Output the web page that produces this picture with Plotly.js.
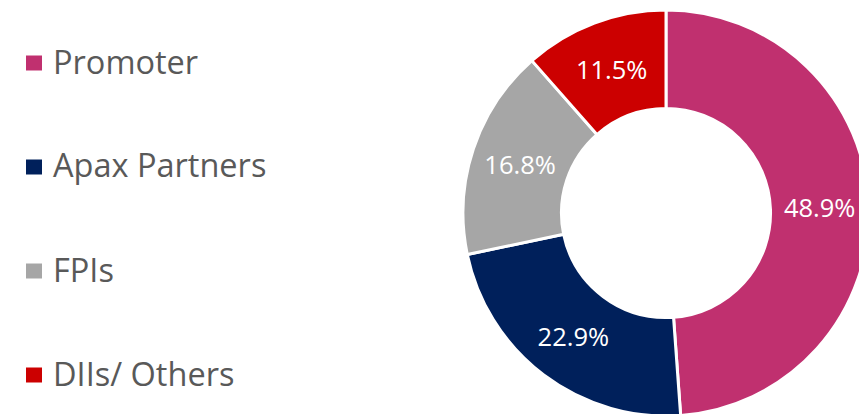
<!DOCTYPE html>
<html>
<head>
<meta charset="utf-8">
<script src="https://cdn.plot.ly/plotly-3.0.1.min.js"></script>
<style>
html, body { margin: 0; padding: 0; overflow: hidden; background: #fff; width: 859px; height: 414px; }
#chart { width: 880px; height: 420px; }
</style>
</head>
<body>
<div id="chart"></div>
<script>
const labels = ['Promoter', 'Apax Partners', 'FPIs', 'DIIs/ Others'];
const values = [48.9, 22.9, 16.8, 11.5];
const colors = ['#C0306F', '#00205B', '#A6A6A6', '#CC0000'];

const W = 880, H = 420;
const legendY = [63, 167, 271, 375];

const trace = {
  type: 'pie',
  labels: labels,
  values: values,
  sort: false,
  direction: 'clockwise',
  rotation: 0,
  hole: 0.515,
  marker: { colors: colors, line: { color: '#ffffff', width: 3 } },
  texttemplate: '%{value:.1f}%',
  textposition: 'inside',
  insidetextorientation: 'horizontal',
  textfont: { family: 'Open Sans', size: 25.5, color: '#ffffff' },
  domain: { x: [463 / W, 869 / W], y: [1 - 416 / H, 1 - 10 / H] },
  hoverinfo: 'skip'
};

const shapes = labels.map((l, i) => ({
  type: 'rect', xref: 'paper', yref: 'paper',
  x0: 26 / W, x1: 42 / W,
  y0: 1 - (legendY[i] + 7.5) / H, y1: 1 - (legendY[i] - 7.5) / H,
  fillcolor: colors[i], line: { width: 0 }
}));

const annotations = labels.map((l, i) => ({
  text: l, xref: 'paper', yref: 'paper',
  x: 51 / W, y: 1 - (legendY[i] - 2) / H,
  xanchor: 'left', yanchor: 'middle', showarrow: false,
  font: { family: 'Open Sans', size: 32.5, color: '#595959' }
}));

const layout = {
  width: W, height: H,
  margin: { l: 0, r: 0, t: 0, b: 0 },
  paper_bgcolor: '#ffffff',
  showlegend: false,
  shapes: shapes,
  annotations: annotations,
  hovermode: false
};

Plotly.newPlot('chart', [trace], layout, { displayModeBar: false, staticPlot: true });
</script>
</body>
</html>
